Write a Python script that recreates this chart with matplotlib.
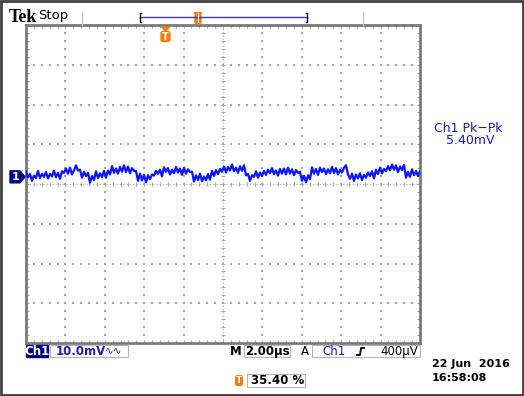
import matplotlib
matplotlib.use("Agg")
import matplotlib.pyplot as plt
import numpy as np
from matplotlib.collections import LineCollection
from matplotlib.patches import Rectangle, Polygon, FancyBboxPatch

# scope settings
VOLTS_PER_DIV_MV = 10.0
TIME_PER_DIV_US = 2.00
TRIG_POS_PCT = 35.40
CH1_OFFSET_DIV = 0.18
PK_PK_MV = 5.40
TRIG_LEVEL = "400µV"
DATE_STR = "22 Jun  2016"
TIME_STR = "16:58:08"

# Ch1 trace, mV relative to ground (one sample every ~0.1 µs)
ch1_mv = [
    1.4, -0.1, 0.7, -1.0, 0.3, -0.3, 1.5, -0.3, 0.8, 0.0,
    1.2, -0.4, 0.7, 0.1, 1.6, -0.1, 1.0, -0.5, 1.4, 1.0,
    2.1, 0.8, 2.3, 0.6, 1.6, 2.9, 1.6, 1.8, -0.2, 1.3,
    0.2, 1.0, -1.5, 0.2, -0.8, 1.4, -0.3, 0.9, -0.1, 1.5,
    -0.2, 1.6, 0.6, 2.7, 1.0, 2.1, 0.8, 2.5, 1.3, 2.9,
    1.2, 2.6, 0.9, 2.2, 1.5, 1.5, -1.0, 0.8, -0.9, 0.5,
    -1.4, 0.4, -0.6, 0.6, 0.3, 1.5, 0.8, 1.8, 0.1, 2.4,
    1.3, 2.2, 0.6, 1.8, 0.9, 2.5, 1.1, 2.1, 0.5, 2.3,
    0.8, 1.9, 1.2, 1.3, -1.2, 0.4, -0.8, 0.8, -1.1, 0.1,
    -0.9, 0.7, -0.7, 1.5, 0.2, 1.7, 0.7, 2.0, 1.3, 2.6,
    1.1, 2.5, 1.6, 3.1, 1.4, 2.3, 1.0, 2.7, 1.5, 2.9,
    0.4, 0.7, -1.0, 0.4, 0.0, 1.4, -0.2, 1.1, 0.2, 1.5,
    0.5, 1.8, 0.9, 2.2, 0.7, 1.6, 0.3, 2.0, 0.8, 2.1,
    0.6, 2.3, 0.8, 1.9, 0.4, 1.7, 1.0, 1.3, -1.0, 0.3,
    -1.4, 0.4, -0.6, 2.4, 0.8, 2.0, 0.5, 2.3, 1.2, 2.1,
    0.7, 1.9, 0.9, 2.5, 1.0, 2.2, 0.6, 1.8, 1.1, 2.3,
    2.9, 0.6, -0.5, 0.8, -1.0, 0.6, -0.4, 0.9, -0.8, 0.5,
    -0.2, 1.1, 0.2, 1.4, -0.4, 1.8, 0.7, 2.3, 0.9, 2.0,
    1.4, 2.7, 1.6, 3.1, 1.8, 2.9, 1.2, 2.6, 1.7, 3.0,
    -0.2, 1.3, 0.0, 1.9, 0.4, 1.5, 0.2, 1.4,
]

W, H = 524, 396
NAVY = "#000080"
BLUE_TXT = "#1c1cb4"
TRACE = "#0a14ff"
ORANGE = "#f57c10"
GRID = "#a6a6a6"
BOX = "#b4b4b4"

fig = plt.figure(figsize=(W / 100, H / 100), dpi=100)
fig.patch.set_facecolor("white")

# graticule: pixel box 26..420 x 25..343
gx0, gx1, gy0, gy1 = 26, 420, 25, 343
ax = fig.add_axes([gx0 / W, 1 - gy1 / H, (gx1 - gx0) / W, (gy1 - gy0) / H])
t0 = -TRIG_POS_PCT / 100 * 10 * TIME_PER_DIV_US
t1 = t0 + 10 * TIME_PER_DIV_US
v_half = 4 * VOLTS_PER_DIV_MV
ax.set_xlim(t0, t1)
ax.set_ylim(-v_half, v_half)
ax.set_xticks([])
ax.set_yticks([])
for s in ax.spines.values():
    s.set_color("#7a7a7a")
    s.set_linewidth(2.0)

dx = TIME_PER_DIV_US
dy = VOLTS_PER_DIV_MV
xs_sub = t0 + np.arange(0, 51) * dx / 5
ys_sub = -v_half + np.arange(0, 41) * dy / 5

# grid dots at 1/5 division along each division line
for k in range(1, 10):
    if k == 5:
        continue
    xg = t0 + k * dx
    ax.scatter(np.full(len(ys_sub), xg), ys_sub, s=0.6, marker="s", color=GRID, lw=0)
for k in range(1, 8):
    if k == 4:
        continue
    yg = -v_half + k * dy
    ax.scatter(xs_sub, np.full(len(xs_sub), yg), s=0.6, marker="s", color=GRID, lw=0)

# center cross with ticks
xc = t0 + 5 * dx
ax.plot([xc, xc], [-v_half, v_half], color=GRID, lw=0.8, ls=(0, (1, 2)))
ax.plot([t0, t1], [0, 0], color=GRID, lw=0.8, ls=(0, (1, 2)))
tx = 2 * (t1 - t0) / (gx1 - gx0)  # 2 px in time units
ty = 2 * (2 * v_half) / (gy1 - gy0)  # 2 px in mV
segs = []
for x in xs_sub:
    segs.append([(x, -ty), (x, ty)])
    segs.append([(x, -v_half), (x, -v_half + 1.5 * ty)])
    segs.append([(x, v_half), (x, v_half - 1.5 * ty)])
for y in ys_sub:
    segs.append([(xc - tx, y), (xc + tx, y)])
    segs.append([(t0, y), (t0 + 1.5 * tx, y)])
    segs.append([(t1, y), (t1 - 1.5 * tx, y)])
ax.add_collection(LineCollection(segs, colors=GRID, linewidths=0.8))

# trace
t = np.linspace(t0, t1, len(ch1_mv))
ax.plot(t, np.array(ch1_mv) + CH1_OFFSET_DIV * VOLTS_PER_DIV_MV,
        color=TRACE, lw=1.6, zorder=5)

# overlay in pixel coordinates for all screen annotations
ov = fig.add_axes([0, 0, 1, 1], zorder=10)
ov.set_xlim(0, W)
ov.set_ylim(H, 0)
ov.axis("off")
ov.patch.set_alpha(0)

ov.add_patch(Rectangle((1, 1), W - 2, H - 2, fill=False, ec="#404040", lw=2))

# header
ov.text(9, 17, "Tek", family="Liberation Serif", weight="bold", fontsize=13,
        va="center", ha="left")
ov.text(38, 16, "Stop", family="DejaVu Sans", fontsize=9.5, va="center", ha="left")
ov.plot([82, 82], [12, 25], color="#c8c8c8", lw=1)
ov.plot([363, 363], [12, 25], color="#c8c8c8", lw=1)
ov.plot([140, 307], [17, 17], color="#3c3cb4", lw=1)
ov.plot([141, 140, 140, 141], [13, 13, 22, 22], color="black", lw=1)
ov.plot([306, 307, 307, 306], [13, 13, 22, 22], color="black", lw=1)
ov.add_patch(FancyBboxPatch((195.5, 15), 5, 8, boxstyle="round,pad=0.5,rounding_size=1.5",
                            fc=ORANGE, ec=ORANGE))
ov.plot([195, 201], [12.5, 12.5], color=ORANGE, lw=1.5)
ov.plot([198, 198], [13, 22], color="white", lw=0.8)

# trigger position marker
trig_px = gx0 + TRIG_POS_PCT / 100 * (gx1 - gx0)
ov.add_patch(Polygon([(trig_px - 4, 27), (trig_px + 4, 27), (trig_px, 31)], color=ORANGE))
ov.add_patch(FancyBboxPatch((trig_px - 4, 32), 8, 9, boxstyle="round,pad=0.5,rounding_size=2",
                            fc=ORANGE, ec=ORANGE))
ov.text(trig_px, 36.8, "T", color="white", fontsize=7, weight="bold", ha="center", va="center")

# ground marker for ch1
gy = (gy0 + gy1) / 2 - CH1_OFFSET_DIV * (gy1 - gy0) / 8
ov.add_patch(Polygon([(10, gy - 6), (20, gy - 6), (25, gy), (20, gy + 6), (10, gy + 6)],
                     color=NAVY))
ov.text(15.5, gy + 0.5, "1", color="white", fontsize=8, weight="bold", ha="center", va="center")

# measurement readout
ov.text(468, 128, "Ch1 Pk\u2212Pk", color=BLUE_TXT, fontsize=9, ha="center", va="center")
ov.text(470, 141, f"{PK_PK_MV:.2f}mV", color=BLUE_TXT, fontsize=9, ha="center", va="center")

# bottom status line
ov.add_patch(Rectangle((26, 345), 22, 12, color=NAVY))
ov.text(37, 351.5, "Ch1", color="white", fontsize=8.5, weight="bold", ha="center", va="center")
ov.add_patch(Rectangle((50, 345), 78, 12, fill=False, ec=BOX, lw=0.8))
ov.text(56, 351.5, f"{VOLTS_PER_DIV_MV:.1f}mV", color=BLUE_TXT, fontsize=8.5, weight="bold",
        ha="left", va="center")
ov.text(105, 351, "\u223f\u223f", color=BLUE_TXT, fontsize=7.5, ha="left", va="center")

ov.text(236, 351.5, "M", color="black", fontsize=8.5, weight="bold", ha="center", va="center")
ov.add_patch(Rectangle((244, 345), 46, 12, fill=False, ec=BOX, lw=0.8))
ov.text(267, 351.5, f"{TIME_PER_DIV_US:.2f}µs", color="black", fontsize=8.5, weight="bold",
        ha="center", va="center")

ov.text(305, 351.5, "A", color="black", fontsize=8.5, ha="center", va="center")
ov.add_patch(Rectangle((312, 345), 108, 12, fill=False, ec=BOX, lw=0.8))
ov.text(322, 351.5, "Ch1", color=BLUE_TXT, fontsize=8.5, ha="left", va="center")
ov.plot([357, 360, 361, 364], [355, 355, 348, 348], color="black", lw=1.3)
ov.text(418, 351.5, TRIG_LEVEL, color="black", fontsize=8.5, ha="right", va="center")

ov.add_patch(FancyBboxPatch((236, 376), 6, 9, boxstyle="round,pad=0.3,rounding_size=1.5",
                            fc=ORANGE, ec=ORANGE))
ov.text(239, 380.8, "T", color="white", fontsize=6.5, weight="bold", ha="center", va="center")
ov.add_patch(Rectangle((247, 374), 58, 13, fill=False, ec=BOX, lw=0.8))
ov.text(251, 381, f"{TRIG_POS_PCT:.2f} %", color="black", fontsize=8.5, weight="bold",
        ha="left", va="center")

ov.text(432, 364, DATE_STR, color="black", fontsize=8, weight="bold", ha="left", va="center")
ov.text(432, 378, TIME_STR, color="black", fontsize=8, weight="bold", ha="left", va="center")

fig.savefig("out.png", dpi=100)
